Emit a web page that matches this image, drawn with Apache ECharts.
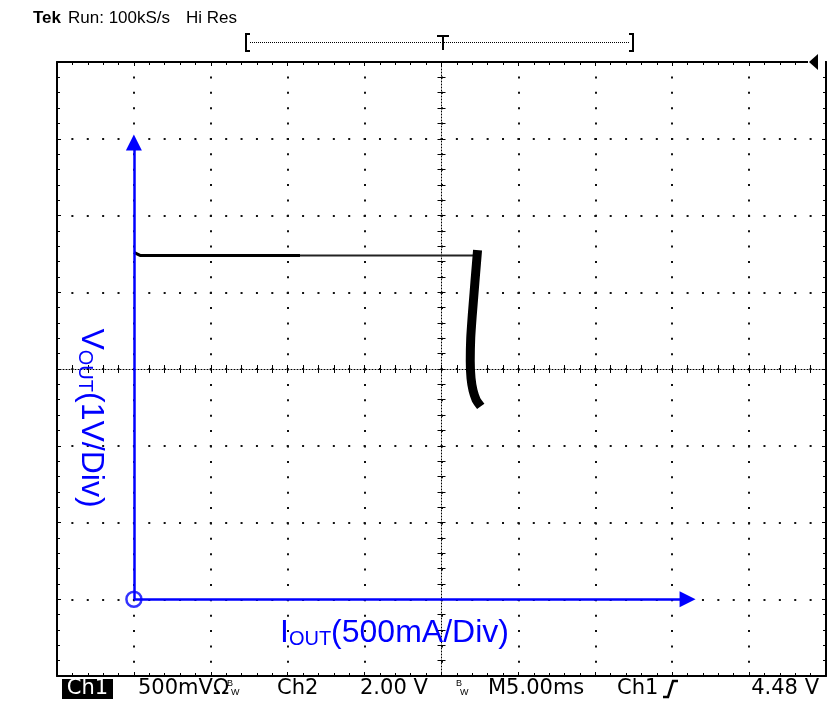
<!DOCTYPE html>
<html><head><meta charset="utf-8">
<script src="https://cdn.jsdelivr.net/npm/echarts@6/dist/echarts.min.js"></script>
<style>html,body{margin:0;padding:0;background:#fff}#c{width:834px;height:701px}</style>
</head><body><div id="c"></div>
<script>
// ---- data (I in A, V in V) ----
const flatTraceA = [[0.0, 4.52], [0.04, 4.48], [1.08, 4.48]];
const flatTraceB = [[1.08, 4.48], [2.23, 4.48]];
const limitTrace = [[2.232, 4.49], [2.222, 4.25], [2.212, 4.00], [2.200, 3.70], [2.190, 3.40], [2.187, 3.10], [2.192, 2.88], [2.205, 2.72], [2.225, 2.60], [2.238, 2.56]];
const originPoint = [[0, 0]];
const xArrowEnd = 3.60;   // A
const yArrowEnd = 5.95;   // V
const xRange = [-0.5, 4.5]; // 500 mA/div, 10 div
const yRange = [-1, 7];     // 1 V/div, 8 div
const headerLeft = 'Run: 100kS/s';
const headerMode = 'Hi Res';
const statusItems = ['500mV', 'Ch2', '2.00 V', 'M5.00ms', 'Ch1', '4.48 V'];
const xLabelParts = ['I', 'OUT', '(500mA/Div)'];
const yLabelParts = ['V', 'OUT', '(1V/Div)'];

const blue = '#0000ff';
const sans = "'Liberation Sans',Arial,sans-serif";
const wide = "'DejaVu Sans',sans-serif";
const GL = 57, GT = 62, GW = 769, GH = 614;

function xAx(extra) {
  return Object.assign({
    type: 'value', min: xRange[0], max: xRange[1], interval: 0.5,
    axisLabel: {show: false}, splitLine: {show: false},
    axisLine: {show: true, onZero: false, lineStyle: {color: '#000', width: 2}},
    axisTick: {show: true, inside: true, length: 4, lineStyle: {color: '#000', width: 1}},
    minorTick: {show: true, splitNumber: 5, length: 3, lineStyle: {color: '#000', width: 1}}
  }, extra);
}
function yAx(extra) {
  return Object.assign({
    type: 'value', min: yRange[0], max: yRange[1], interval: 1,
    axisLabel: {show: false}, splitLine: {show: false},
    axisLine: {show: true, onZero: false, lineStyle: {color: '#000', width: 2}},
    axisTick: {show: true, inside: true, length: 4, lineStyle: {color: '#000', width: 1}},
    minorTick: {show: true, splitNumber: 5, length: 3, lineStyle: {color: '#000', width: 1}}
  }, extra);
}
const centerLine = {show: true, onZero: false, lineStyle: {color: '#000', width: 1, type: [1, 2]}};
const centerTick = {show: true, length: 4, lineStyle: {color: '#000', width: 1}};
const centerMinor = {show: true, splitNumber: 5, length: 4, lineStyle: {color: '#000', width: 1}};

function txt(text, x, y, size, family, styleExtra) {
  return {type: 'text', x: x, y: y,
    style: Object.assign({text: text, fontSize: size, fontFamily: family, fill: '#000', verticalAlign: 'middle'}, styleExtra || {})};
}

const option = {
  animation: false,
  backgroundColor: '#fff',
  grid: {left: GL, top: GT, width: GW, height: GH, containLabel: false, outerBoundsMode: 'none'},
  xAxis: [
    xAx({position: 'bottom', splitLine: {show: true, lineStyle: {color: '#111', width: 2, type: [2, 13.38], dashOffset: 1}}}),
    xAx({position: 'top'}),
    xAx({position: 'bottom', offset: -GH / 2, axisLine: centerLine, axisTick: Object.assign({inside: false}, centerTick), minorTick: centerMinor}),
    xAx({position: 'bottom', offset: -GH / 2, axisLine: {show: false, onZero: false}, axisTick: Object.assign({inside: true}, centerTick), minorTick: centerMinor})
  ],
  yAxis: [
    yAx({position: 'left', splitLine: {show: true, lineStyle: {color: '#111', width: 2, type: [2, 13.38], dashOffset: 1}}}),
    yAx({position: 'right'}),
    yAx({position: 'left', offset: -GW / 2, axisLine: centerLine, axisTick: Object.assign({inside: false}, centerTick), minorTick: centerMinor}),
    yAx({position: 'left', offset: -GW / 2, axisLine: {show: false, onZero: false}, axisTick: Object.assign({inside: true}, centerTick), minorTick: centerMinor})
  ],
  series: [
    {
      type: 'scatter', data: originPoint, symbol: 'circle', symbolSize: 15, silent: true, z: 3,
      itemStyle: {color: 'rgba(0,0,0,0)', borderColor: blue, borderWidth: 2.5},
      markLine: {
        silent: true, symbol: ['none', 'triangle'], symbolSize: [16, 16],
        label: {show: false}, emphasis: {disabled: true},
        lineStyle: {color: blue, width: 2.5, type: 'solid'},
        data: [
          [{coord: [0, 0]}, {coord: [0, yArrowEnd]}],
          [{coord: [0, 0]}, {coord: [xArrowEnd, 0]}]
        ]
      }
    },
    {type: 'line', data: flatTraceA, showSymbol: false, silent: true, z: 4, lineStyle: {color: '#000', width: 3}},
    {type: 'line', data: flatTraceB, showSymbol: false, silent: true, z: 4, lineStyle: {color: '#222', width: 2}},
    {type: 'line', data: limitTrace, showSymbol: false, silent: true, z: 4, smooth: 0.2, lineStyle: {color: '#000', width: 9, cap: 'square'}}
  ],
  graphic: [
    // header
    txt('Tek', 33, 18, 17, sans, {fontWeight: 'bold'}),
    txt(headerLeft, 68, 18, 17, sans),
    txt(headerMode, 186, 18, 17, sans),
    // trigger position bracket
    {type: 'polyline', shape: {points: [[250, 34], [246, 34], [246, 51], [250, 51]]}, style: {stroke: '#000', lineWidth: 2, fill: null}},
    {type: 'polyline', shape: {points: [[629, 34], [633, 34], [633, 51], [629, 51]]}, style: {stroke: '#000', lineWidth: 2, fill: null}},
    {type: 'line', shape: {x1: 250, y1: 42.5, x2: 629, y2: 42.5}, style: {stroke: '#000', lineWidth: 1, lineDash: [1, 1]}},
    {type: 'line', shape: {x1: 437, y1: 36, x2: 449, y2: 36}, style: {stroke: '#000', lineWidth: 2}},
    {type: 'line', shape: {x1: 443, y1: 36, x2: 443, y2: 50}, style: {stroke: '#000', lineWidth: 2}},
    // trigger level marker
    {type: 'rect', shape: {x: 808, y: 58, width: 17, height: 7}, style: {fill: '#fff'}, z: 100},
    {type: 'polygon', shape: {points: [[818, 54], [818, 70], [809, 62]]}, style: {fill: '#000'}, z: 101},
    // status bar
    {type: 'rect', shape: {x: 62, y: 679, width: 51, height: 20}, style: {fill: '#000'}},
    txt('Ch1', 87.5, 689, 21, wide, {fill: '#fff', align: 'center'}),
    txt(statusItems[0] + 'Ω', 138, 689, 21, wide),
    txt('B', 227, 684, 9, sans),
    txt('W', 231, 693, 9, sans),
    txt(statusItems[1], 277, 689, 21, wide),
    txt(statusItems[2], 360, 689, 21, wide),
    txt('B', 456, 684, 9, sans),
    txt('W', 460, 693, 9, sans),
    txt(statusItems[3], 488, 689, 21, wide),
    txt(statusItems[4], 617, 689, 21, wide),
    {type: 'polyline', shape: {points: [[663, 697], [668, 697], [673, 681], [678, 681]]}, style: {stroke: '#000', lineWidth: 2.5, fill: null}},
    txt(statusItems[5], 819, 689, 21, wide, {align: 'right'}),
    // blue axis titles
    {type: 'text', x: 280, y: 633, z: 50, style: {
      text: '{b|' + xLabelParts[0] + '}{s|' + xLabelParts[1] + '}{b|' + xLabelParts[2] + '}',
      verticalAlign: 'middle', fill: blue,
      rich: {b: {fontFamily: sans, fontSize: 32, fill: blue},
             s: {fontFamily: sans, fontSize: 20, fill: blue, verticalAlign: 'bottom', lineHeight: 23}}}},
    {type: 'text', x: 91, y: 418, rotation: -Math.PI / 2, z: 50, style: {
      text: '{b|' + yLabelParts[0] + '}{s|' + yLabelParts[1] + '}{b|' + yLabelParts[2] + '}',
      align: 'center', verticalAlign: 'middle', fill: blue,
      rich: {b: {fontFamily: sans, fontSize: 32, fill: blue},
             s: {fontFamily: sans, fontSize: 20, fill: blue, verticalAlign: 'bottom', lineHeight: 23}}}}
  ]
};
const chart = echarts.init(document.getElementById('c'), null, {renderer: 'canvas'});
chart.setOption(option);
</script>
</body></html>
